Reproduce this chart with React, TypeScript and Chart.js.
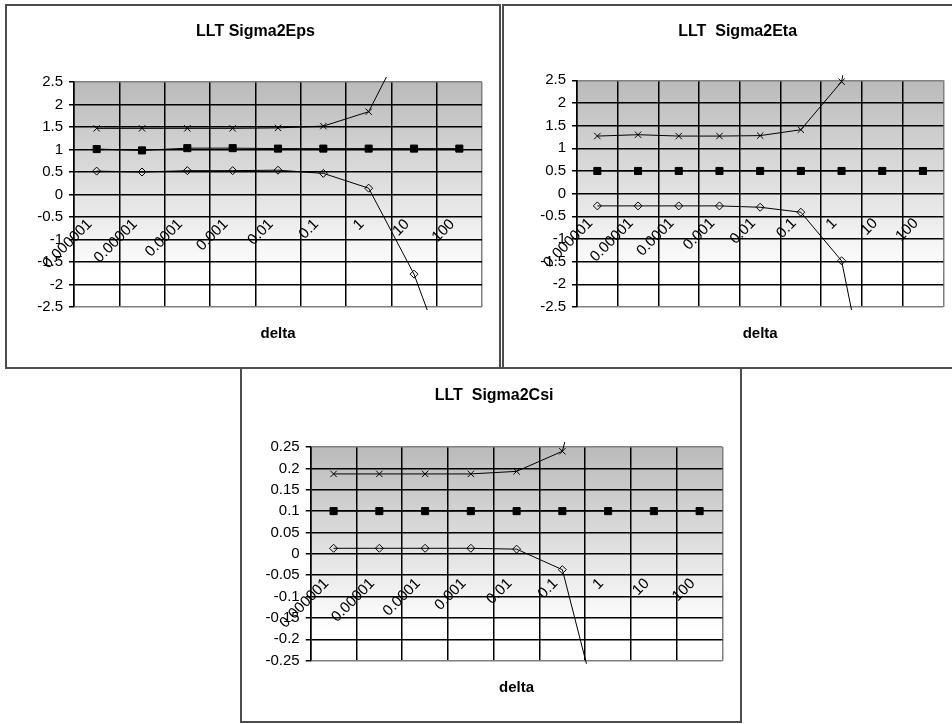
import React, { useEffect, useRef } from "react";
import { Chart, registerables } from "chart.js";

Chart.register(...registerables);

const FONT = '"Liberation Sans", Arial, sans-serif';
Chart.defaults.font.family = FONT;

// ---------- data ----------
const deltaLabels = ["0.000001", "0.00001", "0.0001", "0.001", "0.01", "0.1", "1", "10", "100"];

const epsTicks = [-2.5, -2, -1.5, -1, -0.5, 0, 0.5, 1, 1.5, 2, 2.5];
const epsUpper = [1.47, 1.47, 1.47, 1.47, 1.48, 1.52, 1.84, 3.81, null];
const epsMid = [1.01, 0.98, 1.03, 1.03, 1.02, 1.02, 1.02, 1.02, 1.02];
const epsLower = [0.52, 0.5, 0.53, 0.53, 0.54, 0.47, 0.14, -1.77, -4.5];

const etaTicks = [-2.5, -2, -1.5, -1, -0.5, 0, 0.5, 1, 1.5, 2, 2.5];
const etaUpper = [1.27, 1.3, 1.27, 1.27, 1.28, 1.41, 2.47, 6.9, null];
const etaMid = [0.5, 0.5, 0.5, 0.5, 0.5, 0.5, 0.5, 0.5, 0.5];
const etaLower = [-0.27, -0.27, -0.27, -0.27, -0.3, -0.41, -1.48, -5.9, null];

const csiTicks = [-0.25, -0.2, -0.15, -0.1, -0.05, 0, 0.05, 0.1, 0.15, 0.2, 0.25];
const csiUpper = [0.187, 0.187, 0.187, 0.187, 0.193, 0.24, 0.65, null, null];
const csiMid = [0.1, 0.1, 0.1, 0.1, 0.1, 0.1, 0.1, 0.1, 0.1];
const csiLower = [0.013, 0.013, 0.013, 0.013, 0.011, -0.037, -0.455, null, null];

// ---------- layout ----------
type PanelDef = {
  title: string;
  ticks: number[];
  upper: (number | null)[];
  mid: (number | null)[];
  lower: (number | null)[];
  box: { left: number; top: number; width: number; height: number };
  plot: { L: number; R: number; T: number; B: number };
  titleMid: number;
  deltaMid: number;
};

const panels: PanelDef[] = [
  {
    title: "LLT Sigma2Eps",
    ticks: epsTicks,
    upper: epsUpper,
    mid: epsMid,
    lower: epsLower,
    box: { left: 5, top: 4, width: 496, height: 365 },
    plot: { L: 67, R: 475, T: 76, B: 301 },
    titleMid: 26,
    deltaMid: 328,
  },
  {
    title: "LLT  Sigma2Eta",
    ticks: etaTicks,
    upper: etaUpper,
    mid: etaMid,
    lower: etaLower,
    box: { left: 502, top: 4, width: 464, height: 365 },
    plot: { L: 73, R: 439.3, T: 74.3, B: 301 },
    titleMid: 26,
    deltaMid: 328,
  },
  {
    title: "LLT  Sigma2Csi",
    ticks: csiTicks,
    upper: csiUpper,
    mid: csiMid,
    lower: csiLower,
    box: { left: 240, top: 367, width: 502, height: 356 },
    plot: { L: 68.7, R: 480.5, T: 78, B: 291.7 },
    titleMid: 27,
    deltaMid: 319,
  },
];

const BORDER = 2;
const Y_AXIS_W = 45;
const TITLE_SIZE = 16;
const TITLE_LH = TITLE_SIZE * 1.2;
const AXIS_TITLE_LH = 18; // 15px * 1.2

const bgPlugin = {
  id: "plotBg",
  beforeDraw(chart: any) {
    const { ctx, chartArea: a } = chart;
    if (!a) return;
    ctx.save();
    ctx.fillStyle = "#ffffff";
    ctx.fillRect(0, 0, chart.width, chart.height);
    const g = ctx.createLinearGradient(0, a.top, 0, a.bottom);
    g.addColorStop(0, "#bababa");
    g.addColorStop(0.85, "#ffffff");
    g.addColorStop(1, "#ffffff");
    ctx.fillStyle = g;
    ctx.fillRect(a.left, a.top, a.right - a.left, a.bottom - a.top);
    ctx.restore();
  },
};

function Panel({ def }: { def: PanelDef }) {
  const ref = useRef<HTMLCanvasElement | null>(null);
  const cw = def.box.width - 2 * BORDER;
  const ch = def.box.height - 2 * BORDER;

  useEffect(() => {
    if (!ref.current) return;
    const { plot } = def;
    const t1 = def.titleMid - TITLE_LH / 2;
    const t2 = plot.T - TITLE_LH - t1;
    const s1 = def.deltaMid - plot.B - AXIS_TITLE_LH / 2;
    const padBottom = ch - plot.B - s1 - AXIS_TITLE_LH;
    const yMin = def.ticks[0];
    const yMax = def.ticks[def.ticks.length - 1];
    const clip = { left: 0, right: 0, top: 5, bottom: 3 };

    const chart = new Chart(ref.current, {
      type: "line",
      data: {
        labels: deltaLabels,
        datasets: [
          {
            data: def.upper,
            borderColor: "#000",
            borderWidth: 1,
            pointStyle: "crossRot",
            pointRadius: 4.5,
            pointBorderColor: "#000",
            pointBorderWidth: 1,
            pointBackgroundColor: "rgba(0,0,0,0)",
            fill: false,
            tension: 0,
            clip,
          } as any,
          {
            data: def.mid,
            borderColor: "#000",
            borderWidth: 1,
            pointStyle: "rect",
            pointRadius: 5,
            pointBorderColor: "#000",
            pointBorderWidth: 1,
            pointBackgroundColor: "#000",
            fill: false,
            tension: 0,
            clip,
          } as any,
          {
            data: def.lower,
            borderColor: "#000",
            borderWidth: 1,
            pointStyle: "rectRot",
            pointRadius: 4,
            pointBorderColor: "#000",
            pointBorderWidth: 1,
            pointBackgroundColor: "rgba(0,0,0,0)",
            fill: false,
            tension: 0,
            clip,
          } as any,
        ],
      },
      options: {
        responsive: false,
        animation: false,
        devicePixelRatio: 1,
        events: [],
        layout: {
          padding: {
            left: plot.L - Y_AXIS_W,
            right: cw - plot.R,
            top: 0,
            bottom: padBottom,
          },
        },
        plugins: {
          legend: { display: false },
          tooltip: { enabled: false },
          title: {
            display: true,
            text: def.title,
            color: "#000",
            font: { family: FONT, size: TITLE_SIZE, weight: "bold", lineHeight: 1.2 },
            padding: { top: t1, bottom: t2 },
          },
          subtitle: {
            display: true,
            position: "bottom",
            fullSize: false,
            text: "delta",
            color: "#000",
            font: { family: FONT, size: 15, weight: "bold", lineHeight: 1.2 },
            padding: { top: s1, bottom: 0 },
          },
        } as any,
        scales: {
          x: {
            type: "category",
            offset: true,
            position: { y: 0 } as any,
            grid: {
              offset: true,
              drawTicks: false,
              lineWidth: 1.5,
              color: (c: any) => (c.index === undefined ? "#808080" : "#000"),
            },
            border: { display: false },
            ticks: {
              autoSkip: false,
              minRotation: 45,
              maxRotation: 45,
              padding: 21,
              labelOffset: -7,
              color: "#000",
              font: { family: FONT, size: 15 },
            },
            afterFit: (s: any) => {
              s.paddingLeft = 0;
              s.paddingRight = 0;
              s.paddingTop = 0;
              s.paddingBottom = 0;
            },
          } as any,
          y: {
            type: "linear",
            position: "left",
            min: yMin,
            max: yMax,
            afterBuildTicks: (s: any) => {
              s.ticks = def.ticks.map((v) => ({ value: v }));
            },
            ticks: {
              callback: (v: any) => String(v),
              padding: 6,
              color: "#000",
              font: { family: FONT, size: 15 },
            },
            grid: {
              lineWidth: 1.5,
              tickLength: 5,
              tickColor: "#000",
              color: (c: any) =>
                c.tick && (c.tick.value === yMin || c.tick.value === yMax) ? "#808080" : "#000",
            },
            border: { display: true, color: "#000", width: 1.5 },
            afterFit: (s: any) => {
              s.width = Y_AXIS_W;
            },
          } as any,
        },
      },
      plugins: [bgPlugin],
    });
    return () => chart.destroy();
  }, []);

  return (
    <div
      style={{
        position: "absolute",
        left: def.box.left,
        top: def.box.top,
        width: def.box.width,
        height: def.box.height,
        boxSizing: "border-box",
        border: `${BORDER}px solid #4d4d4d`,
        background: "#fff",
      }}
    >
      <canvas
        ref={ref}
        width={cw}
        height={ch}
        style={{ position: "absolute", left: 0, top: 0, display: "block" }}
      />
    </div>
  );
}

export default function App() {
  return (
    <div
      style={{
        position: "absolute",
        left: 0,
        top: 0,
        width: 952,
        height: 724,
        overflow: "hidden",
        background: "#fff",
      }}
    >
      {panels.map((p, i) => (
        <Panel key={i} def={p} />
      ))}
    </div>
  );
}
